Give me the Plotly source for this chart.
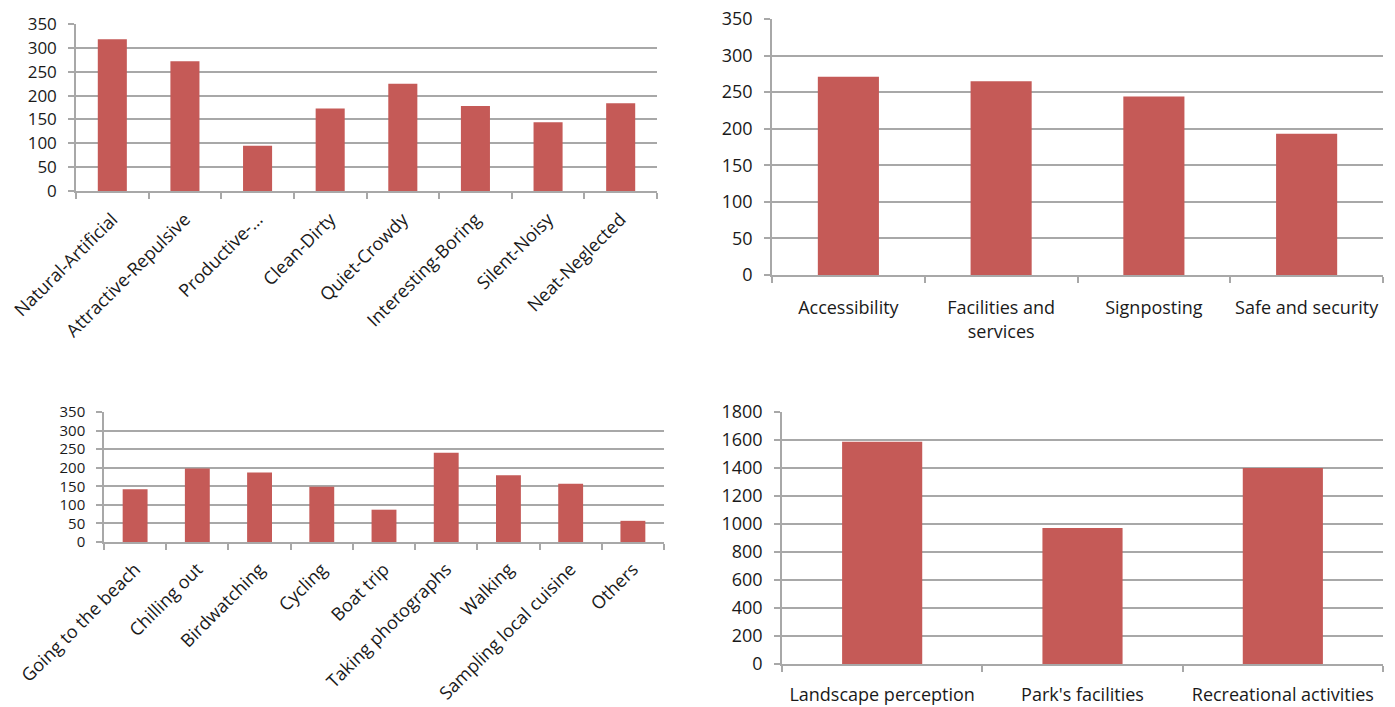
import plotly.graph_objects as go

# ---- data ----
landscape_cats = ["Natural-Artificial", "Attractive-Repulsive", "Productive-...", "Clean-Dirty",
                  "Quiet-Crowdy", "Interesting-Boring", "Silent-Noisy", "Neat-Neglected"]
landscape_vals = [318, 272, 95, 173, 225, 178, 144, 184]

facility_cats = ["Accessibility", "Facilities and<br>services", "Signposting", "Safe and security"]
facility_vals = [271, 265, 244, 193]

activity_cats = ["Going to the beach", "Chilling out", "Birdwatching", "Cycling", "Boat trip",
                 "Taking photographs", "Walking", "Sampling local cuisine", "Others"]
activity_vals = [142, 198, 187, 149, 87, 240, 180, 157, 57]

total_cats = ["Landscape perception", "Park's facilities", "Recreational activities"]
total_vals = [1588, 971, 1400]

BAR = "#C55A57"
GRID = "#A8A8A8"
TXT = "#1A1A1A"
FONT = "Open Sans"
W, H = 1395, 707

fig = go.Figure()

panels = [
    # cats, vals, xdomain px, ydomain px (top,bottom), ymax, dtick, xfont, yfont, angle, xstandoff
    (landscape_cats, landscape_vals, (76, 657), (24, 191), 350, 50, 18, 17, -45, 9),
    (facility_cats, facility_vals, (772, 1383), (19, 275), 350, 50, 18, 18, 0, 16),
    (activity_cats, activity_vals, (104, 664), (412, 542), 350, 50, 18, 15, -45, 8),
    (total_cats, total_vals, (782, 1383), (412, 664), 1800, 200, 18, 18, 0, 14),
]

layout = dict(
    width=W, height=H, autosize=False,
    margin=dict(l=0, r=0, t=0, b=0),
    paper_bgcolor="white", plot_bgcolor="white",
    showlegend=False,
)

for i, (cats, vals, xd, yd, ymax, dt, xfs, yfs, ang, xso) in enumerate(panels, start=1):
    sfx = "" if i == 1 else str(i)
    fig.add_trace(go.Bar(x=cats, y=vals, marker=dict(color=BAR, line=dict(width=0)),
                         width=0.4, xaxis="x" + sfx, yaxis="y" + sfx, hoverinfo="x+y"))
    layout["xaxis" + sfx] = dict(
        domain=[xd[0] / W, xd[1] / W], anchor="y" + sfx,
        type="category", range=[-0.5, len(cats) - 0.5],
        showline=True, linecolor=GRID, linewidth=1.5,
        ticks="outside", tickson="boundaries", ticklen=6, tickcolor=GRID, tickwidth=1.5,
        showgrid=False, tickangle=ang, automargin=False,
        tickfont=dict(family=FONT, size=xfs, color=TXT),
        ticklabelstandoff=xso,
    )
    layout["yaxis" + sfx] = dict(
        domain=[1 - yd[1] / H, 1 - yd[0] / H], anchor="x" + sfx,
        range=[0, ymax], dtick=dt, tick0=0,
        showline=True, linecolor=GRID, linewidth=1.5,
        ticks="outside", ticklen=6, tickcolor=GRID, tickwidth=1.5,
        showgrid=True, gridcolor=GRID, gridwidth=1.5, zeroline=False,
        automargin=False,
        tickfont=dict(family=FONT, size=yfs, color=TXT),
        ticklabelstandoff=8,
    )

fig.update_layout(**layout)
fig.write_html("out.html")
